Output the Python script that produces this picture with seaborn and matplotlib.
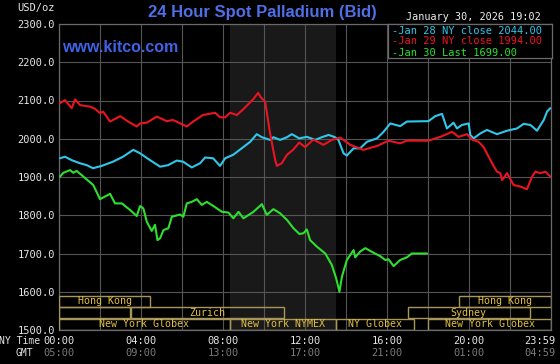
import matplotlib
matplotlib.use("Agg")
import matplotlib.pyplot as plt
import matplotlib.transforms as mtrans
from matplotlib.patches import Rectangle
import pandas as pd
import seaborn as sns

# ---------------- data (hours after 00:00 NY time, USD/oz) ----------------
jan28_hours = [0.05, 0.29, 0.62, 1.02, 1.35, 1.66, 2.08, 2.63, 3.12, 3.62, 3.95, 4.44, 4.93, 5.32,
               5.74, 6.05, 6.47, 6.88, 7.12, 7.51, 7.85, 8.10, 8.49, 8.98, 9.32, 9.64, 9.89, 10.29,
               10.45, 10.78, 11.11, 11.35, 11.71, 12.08, 12.49, 12.81, 13.14, 13.46, 13.62, 13.87,
               14.03, 14.36, 14.68, 15.01, 15.50, 15.82, 16.15, 16.63, 16.96, 18.01, 18.34, 18.67,
               18.91, 19.23, 19.40, 19.64, 19.97, 20.05, 20.21, 20.54, 20.86, 21.35, 21.84, 22.33,
               22.65, 22.98, 23.30, 23.63, 23.79, 23.95]
jan28_values = [1949, 1953, 1944, 1936, 1931, 1923, 1929, 1940, 1953, 1971, 1962, 1944, 1927, 1931,
                1943, 1940, 1925, 1936, 1951, 1949, 1929, 1949, 1958, 1978, 1992, 2012, 2004, 1997,
                2004, 1997, 2004, 2012, 2001, 2005, 1997, 2004, 2010, 2004, 1997, 1962,
                1956, 1975, 1975, 1992, 2001, 2018, 2040, 2033, 2045, 2046, 2059, 2065,
                2027, 2042, 2027, 2036, 2040, 2010, 2001, 2014, 2023, 2012, 2021, 2027,
                2039, 2036, 2021, 2049, 2071, 2080]

jan29_hours = [0.05, 0.29, 0.62, 0.78, 1.02, 1.51, 1.76, 2.00, 2.15, 2.49, 2.98, 3.37, 3.79, 3.95,
               4.28, 4.77, 5.25, 5.56, 6.23, 6.54, 7.02, 7.61, 7.85, 8.10, 8.34, 8.67, 8.98, 9.46,
               9.71, 9.84, 10.05, 10.29, 10.54, 10.62, 10.86, 11.11, 11.41, 11.71, 12.00, 12.40,
               12.89, 13.30, 13.71, 14.20, 14.84, 15.50, 16.06, 16.63, 16.96, 18.01, 18.59, 19.16,
               19.48, 19.89, 20.13, 20.45, 20.70, 21.11, 21.35, 21.51, 21.60, 21.84, 22.16, 22.49,
               22.81, 23.06, 23.22, 23.46, 23.71, 23.95]
jan29_values = [2093, 2101, 2080, 2103, 2088, 2084, 2078, 2067, 2071, 2045, 2059, 2045, 2032, 2040,
                2042, 2058, 2046, 2049, 2032, 2045, 2062, 2068, 2056, 2056, 2068, 2062, 2077, 2103,
                2120, 2108, 2097, 2014, 1944, 1929, 1936, 1958, 1971, 1990, 1978, 1998,
                1984, 1997, 2003, 1984, 1971, 1981, 1995, 1988, 1995, 1995, 2005, 2018,
                2005, 2012, 1998, 1992, 1978, 1936, 1914, 1910, 1892, 1910, 1879, 1875,
                1868, 1901, 1914, 1910, 1914, 1901]

jan30_hours = [0.05, 0.21, 0.54, 0.70, 0.86, 1.19, 1.67, 2.00, 2.24, 2.49, 2.73, 3.06, 3.46, 3.79,
               3.95, 4.11, 4.28, 4.52, 4.68, 4.80, 4.93, 5.09, 5.33, 5.50, 5.90, 6.06, 6.23, 6.47,
               6.72, 6.96, 7.20, 7.53, 7.94, 8.26, 8.50, 8.75, 8.99, 9.48, 9.89, 10.13, 10.45,
               10.78, 11.11, 11.43, 11.72, 11.92, 12.08, 12.24, 12.57, 12.98, 13.30, 13.51, 13.67,
               13.79, 14.03, 14.36, 14.44, 14.68, 14.93, 15.33, 15.66, 15.90, 16.06, 16.31, 16.63,
               16.96, 17.20, 17.94]
jan30_values = [1901, 1911, 1918, 1911, 1916, 1901, 1879, 1842, 1849, 1856, 1831, 1831, 1814, 1798,
                1824, 1818, 1783, 1759, 1775, 1735, 1740, 1761, 1766, 1796, 1802, 1796, 1831, 1835,
                1842, 1827, 1835, 1824, 1809, 1807, 1792, 1809, 1792, 1809, 1829, 1801, 1816,
                1805, 1788, 1766, 1751, 1753, 1763, 1735, 1718, 1700, 1670, 1635, 1600,
                1639, 1683, 1709, 1690, 1705, 1714, 1702, 1693, 1683, 1685, 1667, 1683,
                1690, 1700, 1700]

series_names = ["Jan 28", "Jan 29", "Jan 30"]
series_colors = ["#2ec8ea", "#ea1420", "#2ee02e"]
legend_labels = ["-Jan 28 NY close 2044.00", "-Jan 29 NY close 1994.00", "-Jan 30 Last 1699.00"]

y_ticks = [1500, 1600, 1700, 1800, 1900, 2000, 2100, 2200, 2300]
y_tick_labels = ["1500.0", "1600.0", "1700.0", "1800.0", "1900.0", "2000.0", "2100.0", "2200.0", "2300.0"]
x_tick_hours = [0, 4, 8, 12, 16, 20, 23.983]
ny_labels = ["00:00", "04:00", "08:00", "12:00", "16:00", "20:00", "23:59"]
gmt_labels = ["05:00", "09:00", "13:00", "17:00", "21:00", "01:00", "04:59"]

session_names = ["Hong Kong", "", "Zurich", "New York Globex", "New York NYMEX", "NY Globex",
                 "Sydney", "Hong Kong", "New York Globex"]
session_start = [0.0, 0.0, 3.5, 0.0, 8.333, 13.5, 17.0, 19.5, 18.0]
session_end = [4.45, 3.45, 10.95, 8.333, 13.5, 17.3, 22.95, 23.983, 23.983]
session_row = [0, 1, 1, 2, 2, 2, 1, 0, 2]

nymex_open, nymex_close = 8.333, 13.5

# ---------------- figure ----------------
sns.set_style("dark")
plt.rcParams["font.family"] = ["DejaVu Sans Mono", "DejaVu Sans"]
W, H = 560, 364
fig = plt.figure(figsize=(W / 100, H / 100), dpi=100, facecolor="black")
ax = fig.add_axes([59 / W, (H - 330) / H, (551 - 59) / W, (330 - 24) / H])
ax.set_facecolor("black")

frames = []
for name, hrs, vals in zip(series_names, [jan28_hours, jan29_hours, jan30_hours],
                           [jan28_values, jan29_values, jan30_values]):
    frames.append(pd.DataFrame({"hour": hrs, "price": vals, "series": name}))
df = pd.concat(frames, ignore_index=True)

ax.axvspan(nymex_open, nymex_close, color="#191919", zorder=0, lw=0)

sns.lineplot(data=df, x="hour", y="price", hue="series", palette=dict(zip(series_names, series_colors)),
             estimator=None, sort=False, linewidth=1.5, legend=False, ax=ax, zorder=3)

ax.set_xlim(0, 23.983)
ax.set_ylim(1500, 2300)
ax.set_xticks(list(range(0, 24, 2)))
ax.set_xticklabels([])
ax.set_yticks(y_ticks)
ax.set_yticklabels(y_tick_labels)
ax.tick_params(axis="y", length=0, pad=3, labelsize=7.5, labelcolor="#e6e6e6")
ax.tick_params(axis="x", length=0)
ax.grid(True, color="#555555", linewidth=0.8)
for s in ax.spines.values():
    s.set_visible(True)
    s.set_color("#6a6a6a")
    s.set_linewidth(0.9)
ax.set_xlabel("")
ax.set_ylabel("")

# session boxes
row_bounds = [(1561, 1590), (1531, 1559), (1501, 1529)]
for name, s0, s1, r in zip(session_names, session_start, session_end, session_row):
    y0, y1 = row_bounds[r]
    ax.add_patch(Rectangle((s0, y0), s1 - s0, y1 - y0, fill=False, edgecolor="#a8955a",
                           linewidth=1.0, zorder=4))
    if name:
        ax.text((s0 + s1) / 2, (y0 + y1) / 2, name, color="#e2c040", fontsize=7.2,
                ha="center", va="center", zorder=5)

# x labels
trans = mtrans.blended_transform_factory(ax.transData, fig.transFigure)
for i, (h, ny, gmt) in enumerate(zip(x_tick_hours, ny_labels, gmt_labels)):
    xh = h if i < len(x_tick_hours) - 1 else h - 0.55
    ax.text(xh, 1 - 341 / H, ny, transform=trans, color="#e6e6e6", fontsize=7.5,
            ha="center", va="center")
    ax.text(xh, 1 - 353 / H, gmt, transform=trans, color="#7a7a7a", fontsize=7.5,
            ha="center", va="center")
fig.text(40 / W, 1 - 341 / H, "NY Time", color="#e6e6e6", fontsize=7.0, ha="right", va="center")
fig.text(33 / W, 1 - 353 / H, "GMT", color="#e6e6e6", fontsize=7.0, ha="right", va="center")
fig.text(55 / W, 1 - 8 / H, "USD/oz", color="#e6e6e6", fontsize=7.5, ha="right", va="center")

# titles
fig.text(262 / W, 1 - 13 / H, "24 Hour Spot Palladium (Bid)", color="#4f6fe6", fontsize=12,
         fontweight="bold", family="Liberation Sans", ha="center", va="center")
fig.text(62 / W, 1 - 48 / H, "www.kitco.com", color="#3f63e6", fontsize=11.5,
         fontweight="bold", family="Liberation Sans", ha="left", va="center")
fig.text(473 / W, 1 - 17 / H, "January 30, 2026 19:02", color="#f0f0f0", fontsize=7.3,
         ha="center", va="center")

# legend box
legend_ax = fig.add_axes([388 / W, 1 - 58 / H, (552 - 388) / W, (58 - 24) / H])
legend_ax.set_facecolor("black")
legend_ax.set_xticks([])
legend_ax.set_yticks([])
for s in legend_ax.spines.values():
    s.set_color("#6a6a6a")
    s.set_linewidth(0.9)
for i, (lab, col) in enumerate(zip(legend_labels, series_colors)):
    legend_ax.text(0.025, 1 - (6.5 + 11 * i) / 34, lab, color=col, fontsize=7.5,
                   ha="left", va="center", transform=legend_ax.transAxes)

fig.savefig("out.png", dpi=100, facecolor="black")
